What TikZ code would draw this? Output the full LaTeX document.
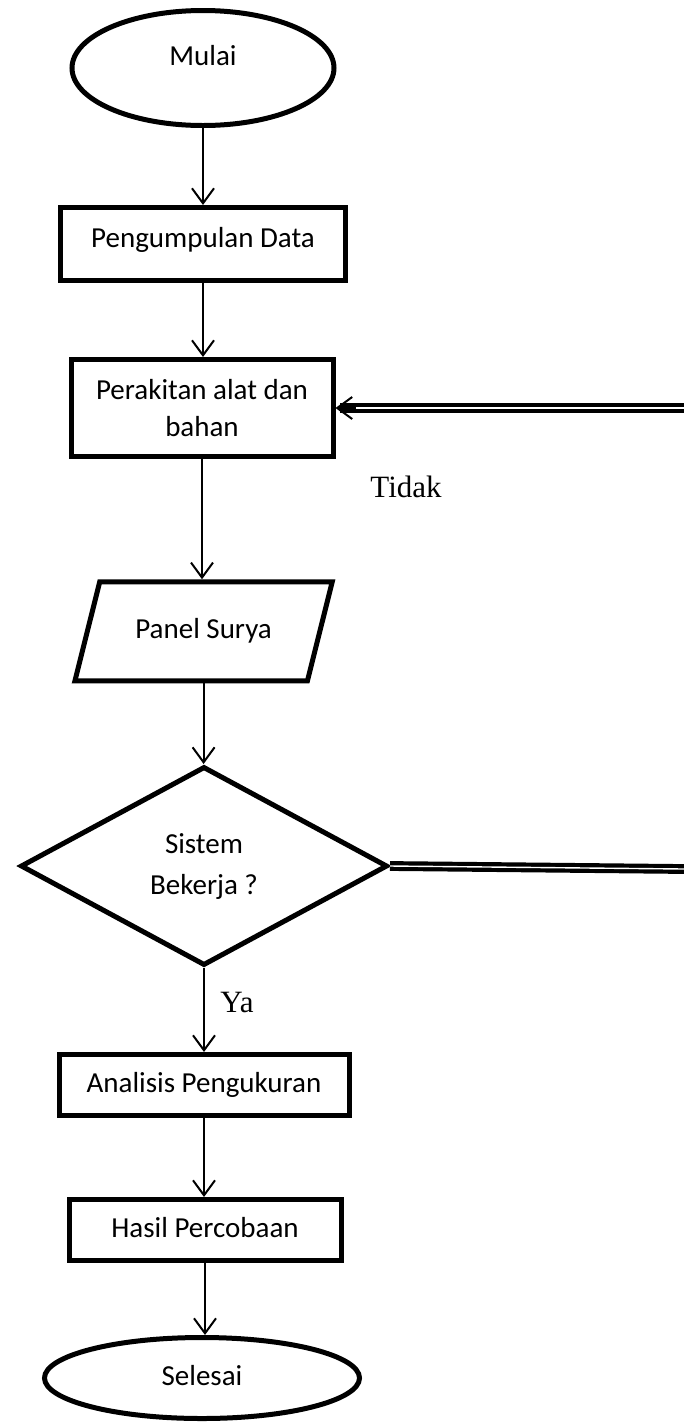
\documentclass[tikz,border=0pt]{standalone}
\usepackage{fontspec}
\setmainfont{Carlito}
\newfontfamily\tnr{Liberation Serif}
\usetikzlibrary{arrows.meta,shapes.geometric,calc}
\begin{document}
\begin{tikzpicture}[x=1pt,y=-1pt,
  fcbase/.style={draw=black, line width=5pt, inner sep=0pt, outer sep=2.5pt,
    font=\fontsize{29}{37}\selectfont, align=center},
  oneline/.style={text height=20pt, text depth=#1},
  fcbox/.style={fcbase, rectangle},
  fcoval/.style={fcbase, ellipse},
  fcdec/.style={fcbase, diamond, font=\fontsize{29}{41}\selectfont},
  fcarrow/.style={line width=2pt, -{Straight Barb[length=15pt,width=22pt,line width=2pt]}},
  fcdouble/.style={draw=black, line width=4.2pt, double=white, double distance=1.4pt},
  fclabel/.style={font=\tnr\fontsize{31}{36}\selectfont, inner sep=0pt}]
\useasboundingbox (0,0) rectangle (684,1425);
\fill[white] (0,0) rectangle (684,1425);

\node[fcoval, oneline=26pt, minimum width=262pt, minimum height=115pt] (mulai) at (203,68) {Mulai};
\node[fcbox, oneline=14pt, minimum width=285pt, minimum height=73pt] (peng) at (203,244) {Pengumpulan Data};
\node[fcbox, minimum width=262pt, minimum height=97pt] (perak) at (202,408) {Perakitan alat dan\\bahan};
\node[fcbase, draw=none, rectangle, oneline=6pt, minimum width=232pt, minimum height=99pt] (panel) at (203.6,631.25) {Panel Surya};
\draw[line width=5pt, line join=miter]
  ($(panel.north west)+(14.65,2.5)$) -- ($(panel.north east)+(10.15,2.5)$)
  -- ($(panel.south east)+(-14.65,-2.5)$) -- ($(panel.south west)+(-10.15,-2.5)$) -- cycle;
\node[fcdec, minimum width=367pt, minimum height=199pt] (dec) at (204,866) {Sistem\\Bekerja ?};
\node[fcbox, oneline=6pt, minimum width=290pt, minimum height=61pt] (anal) at (204,1085) {Analisis Pengukuran};
\node[fcbox, oneline=6pt, minimum width=272pt, minimum height=61pt] (hasil) at (205,1230) {Hasil Percobaan};
\node[fcoval, oneline=6pt, minimum width=315pt, minimum height=81pt] (selesai) at (202,1378) {Selesai};

\coordinate (r1) at (684,869);
\coordinate (r2) at (684,408);

\draw[fcarrow] (mulai.south) -- (mulai.south |- peng.north);
\draw[fcarrow] (peng.south) -- (peng.south |- perak.north);
\draw[fcarrow] (perak.south) -- (perak.south |- panel.north);
\draw[fcarrow] (panel.south) -- (panel.south |- dec.north);
\draw[fcarrow] (dec.south) -- (dec.south |- anal.north);
\draw[fcarrow] (anal.south) -- (anal.south |- hasil.north);
\draw[fcarrow] (hasil.south) -- (hasil.south |- selesai.north);

\draw[fcdouble] (dec.east) -- (r1);
\draw[fcdouble] (r2) -- ($(perak.east)+(4,0)$);
\draw[fcarrow] ($(perak.east)+(20,0)$) -- (perak.east);

\node[fclabel] (tidak) at (406,487) {Tidak};
\node[fclabel] (ya) at (237,1002) {Ya};
\end{tikzpicture}
\end{document}
